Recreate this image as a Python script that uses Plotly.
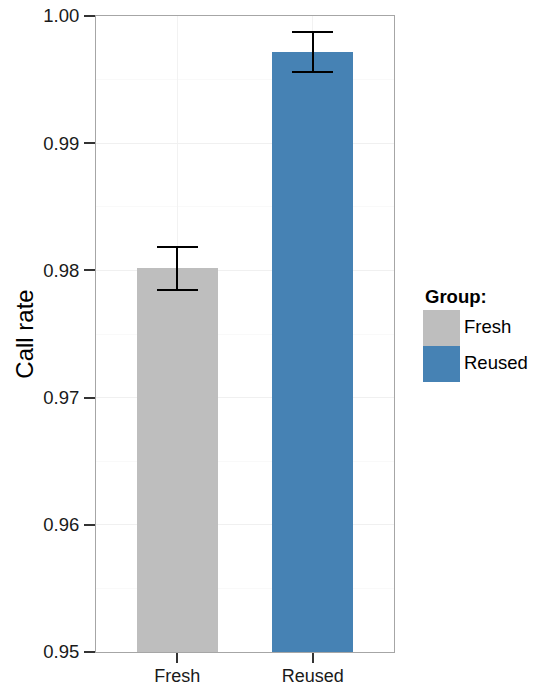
import plotly.graph_objects as go

# Data
groups = ["Fresh", "Reused"]
call_rate = [0.98016, 0.99714]
err_upper = [0.98185, 0.99872]
err_lower = [0.97847, 0.99557]
bar_colors = ["#BEBEBE", "#4682B4"]
y_ticks = [0.95, 0.96, 0.97, 0.98, 0.99, 1.00]
y_tick_labels = ["0.95", "0.96", "0.97", "0.98", "0.99", "1.00"]

W, H = 535, 686
L, R, T, B = 96, 141, 16, 34
pw, ph = W - L - R, H - T - B


def px_x(x):
    return (x - L) / pw


def px_y(y):
    return (H - B - y) / ph


fig = go.Figure()
fig.add_trace(go.Bar(
    x=groups,
    y=call_rate,
    width=0.6,
    marker=dict(color=bar_colors, line=dict(width=0)),
    error_y=dict(
        type="data",
        symmetric=False,
        array=[u - v for u, v in zip(err_upper, call_rate)],
        arrayminus=[v - l for l, v in zip(err_lower, call_rate)],
        color="black",
        thickness=1.8,
        width=20.5,
    ),
    showlegend=False,
))

font = "Liberation Sans, Arial, Helvetica, sans-serif"

# Custom legend (large swatches, ggplot-style)
shapes = []
annotations = []
key_x0, key_x1 = 423, 460
keys_y = [(310, 346), (346, 382)]
for (y0, y1), col, name in zip(keys_y, bar_colors, groups):
    shapes.append(dict(type="rect", xref="paper", yref="paper",
                       x0=px_x(key_x0), x1=px_x(key_x1),
                       y0=px_y(y1), y1=px_y(y0),
                       fillcolor=col, line=dict(width=0)))
    annotations.append(dict(xref="paper", yref="paper", x=px_x(462), y=px_y((y0 + y1) / 2 - 1),
                            text=name, showarrow=False, xanchor="left", yanchor="middle",
                            font=dict(family=font, size=18.5, color="black")))
annotations.append(dict(xref="paper", yref="paper", x=px_x(423), y=px_y(296),
                        text="<b>Group:</b>", showarrow=False, xanchor="left", yanchor="middle",
                        font=dict(family=font, size=18.5, color="black")))

fig.update_layout(
    template="none",
    width=W, height=H,
    margin=dict(l=L, r=R, t=T, b=B, pad=0, autoexpand=False),
    paper_bgcolor="white",
    plot_bgcolor="white",
    font=dict(family=font, size=18.5, color="#1a1a1a"),
    shapes=shapes,
    annotations=annotations,
    bargap=0,
)
fig.update_xaxes(
    type="category",
    automargin=False,
    range=[-0.6, 1.6],
    showgrid=True, gridcolor="#f2f2f2", gridwidth=1,
    showline=True, mirror=True, linecolor="#a6a6a6", linewidth=1,
    ticks="outside", ticklen=10, tickcolor="#333333", tickwidth=1.5,
    ticklabelstandoff=-3,
    tickfont=dict(family=font, size=18, color="#1a1a1a"),
    zeroline=False,
)
fig.update_yaxes(
    automargin=False,
    range=[0.95, 1.00],
    tickvals=y_ticks, ticktext=y_tick_labels,
    showgrid=True, gridcolor="#f0f0f0", gridwidth=1,
    minor=dict(dtick=0.005, tick0=0.95, showgrid=True, gridcolor="#f9f9f9", gridwidth=1),
    showline=True, mirror=True, linecolor="#a6a6a6", linewidth=1,
    ticks="outside", ticklen=11, tickcolor="#333333", tickwidth=1.5,
    ticklabelstandoff=1,
    tickfont=dict(family=font, size=18.5, color="#1a1a1a"),
    title=dict(text="Call rate", font=dict(family=font, size=24, color="black"), standoff=2),
    zeroline=False,
)

fig.write_html(
    "out.html",
    config={"displayModeBar": False},
    post_script="document.body.style.margin='0';document.body.style.padding='0';",
)
